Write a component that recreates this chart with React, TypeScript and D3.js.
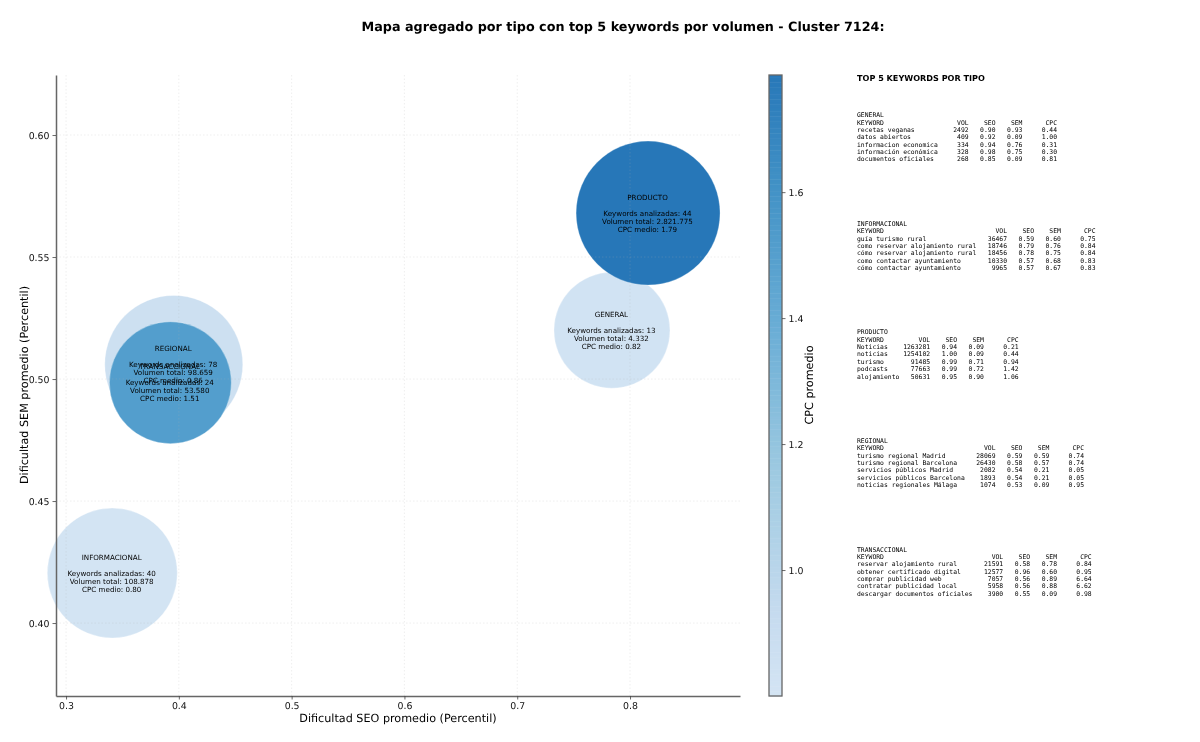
import { useEffect, useRef } from "react";
import * as d3 from "d3";

const types = ["GENERAL", "INFORMACIONAL", "PRODUCTO", "REGIONAL", "TRANSACCIONAL"];
const seoAvg = [0.784, 0.341, 0.816, 0.3955, 0.3925];
const semAvg = [0.52, 0.4205, 0.568, 0.506, 0.4985];
const cpcAvg = [0.82, 0.8, 1.79, 0.86, 1.51];
const keywordCount = [13, 40, 44, 78, 24];
const totalVolume = ["4.332", "108.878", "2.821.775", "98.659", "53.580"];
const bubbleSize = [3364, 4225, 5184, 4761, 3721];

const xTicks = [0.3, 0.4, 0.5, 0.6, 0.7, 0.8];
const yTicks = [0.4, 0.45, 0.5, 0.55, 0.6];
const cpcTicks = [1.0, 1.2, 1.4, 1.6];

// matplotlib Blues, only part of it is used
const blues = ["#f7fbff", "#deebf7", "#c6dbef", "#9ecae1", "#6baed6", "#4292c6", "#2171b5", "#08519c", "#08306b"];

// keyword, vol, seo, sem, cpc
const generalRows: [string, number, number, number, number][] = [
  ["recetas veganas", 2492, 0.9, 0.93, 0.44],
  ["datos abiertos", 409, 0.92, 0.09, 1.0],
  ["informacion economica", 334, 0.94, 0.76, 0.31],
  ["información económica", 328, 0.98, 0.75, 0.3],
  ["documentos oficiales", 268, 0.85, 0.09, 0.81],
];
const informacionalRows: [string, number, number, number, number][] = [
  ["guía turismo rural", 36467, 0.59, 0.6, 0.75],
  ["como reservar alojamiento rural", 18746, 0.79, 0.76, 0.84],
  ["cómo reservar alojamiento rural", 18456, 0.78, 0.75, 0.84],
  ["como contactar ayuntamiento", 10330, 0.57, 0.68, 0.83],
  ["cómo contactar ayuntamiento", 9965, 0.57, 0.67, 0.83],
];
const productoRows: [string, number, number, number, number][] = [
  ["Noticias", 1263281, 0.94, 0.09, 0.21],
  ["noticias", 1254102, 1.0, 0.09, 0.44],
  ["turismo", 91485, 0.99, 0.71, 0.94],
  ["podcasts", 77663, 0.99, 0.72, 1.42],
  ["alojamiento", 50631, 0.95, 0.9, 1.06],
];
const regionalRows: [string, number, number, number, number][] = [
  ["turismo regional Madrid", 28069, 0.59, 0.59, 0.74],
  ["turismo regional Barcelona", 26430, 0.58, 0.57, 0.74],
  ["servicios públicos Madrid", 2082, 0.54, 0.21, 0.05],
  ["servicios públicos Barcelona", 1893, 0.54, 0.21, 0.05],
  ["noticias regionales Málaga", 1074, 0.53, 0.09, 0.95],
];
const transaccionalRows: [string, number, number, number, number][] = [
  ["reservar alojamiento rural", 21591, 0.58, 0.78, 0.84],
  ["obtener certificado digital", 12577, 0.96, 0.6, 0.95],
  ["comprar publicidad web", 7057, 0.56, 0.89, 6.64],
  ["contratar publicidad local", 5958, 0.56, 0.88, 6.62],
  ["descargar documentos oficiales", 3900, 0.55, 0.09, 0.98],
];
const tableRows = [generalRows, informacionalRows, productoRows, regionalRows, transaccionalRows];

const sans = "'DejaVu Sans', sans-serif";
const mono = "'DejaVu Sans Mono', monospace";

const App = () => {
  const ref = useRef<SVGSVGElement>(null);

  useEffect(() => {
    const svg = d3.select(ref.current);
    svg.selectAll("*").remove();

    const plot = { left: 56, right: 740, top: 75, bottom: 696 };
    const bar = { left: 769, right: 782 };

    const x = d3.scaleLinear().domain([0.2911, 0.8975]).range([plot.left, plot.right]);
    const y = d3.scaleLinear().domain([0.3701, 0.6246]).range([plot.bottom, plot.top]);
    const r = d3.scaleSqrt().domain([0, 5184]).range([0, 72]);

    const blueScale = d3
      .scaleLinear<string>()
      .domain(blues.map((_, i) => i / 8))
      .range(blues);
    const cpcNorm = d3.scaleLinear().domain([0.8, 1.786]).range([0.18, 0.725]);
    const cpcColor = (v: number) => blueScale(cpcNorm(v));
    const cpcY = d3.scaleLinear().domain([0.8, 1.786]).range([plot.bottom, plot.top]);

    // title
    svg
      .append("text")
      .attr("x", 623)
      .attr("y", 31)
      .attr("text-anchor", "middle")
      .attr("font-family", sans)
      .attr("font-weight", "bold")
      .attr("font-size", 12.75)
      .text("Mapa agregado por tipo con top 5 keywords por volumen - Cluster 7124:");

    // bubbles, table order so TRANSACCIONAL sits on REGIONAL
    types.forEach((t, i) => {
      svg
        .append("circle")
        .attr("cx", x(seoAvg[i]))
        .attr("cy", y(semAvg[i]))
        .attr("r", r(bubbleSize[i]))
        .attr("fill", cpcColor(cpcAvg[i]))
        .attr("stroke", "white")
        .attr("stroke-opacity", 0.5)
        .attr("stroke-width", 0.6);
    });

    // grid goes over the bubbles
    const grid = svg.append("g").attr("stroke", "#b0b0b0").attr("stroke-opacity", 0.3).attr("stroke-width", 0.7).attr("stroke-dasharray", "1.5 2");
    xTicks.forEach((t) => {
      grid.append("line").attr("x1", x(t)).attr("x2", x(t)).attr("y1", plot.top).attr("y2", plot.bottom);
    });
    yTicks.forEach((t) => {
      grid.append("line").attr("x1", plot.left).attr("x2", plot.right).attr("y1", y(t)).attr("y2", y(t));
    });

    // bubble labels
    types.forEach((t, i) => {
      const lines = [t, "", `Keywords analizadas: ${keywordCount[i]}`, `Volumen total: ${totalVolume[i]}`, `CPC medio: ${cpcAvg[i].toFixed(2)}`];
      lines.forEach((line, j) => {
        svg
          .append("text")
          .attr("x", x(seoAvg[i]) - 0.6)
          .attr("y", y(semAvg[i]) + (j - 2) * 7.95 + 2.7)
          .attr("text-anchor", "middle")
          .attr("font-family", sans)
          .attr("font-size", 7.15)
          .attr("fill", "#000")
          .text(line);
      });
    });

    // axes
    const xAxis = svg
      .append("g")
      .attr("transform", `translate(0,${plot.bottom})`)
      .call(d3.axisBottom(x).tickValues(xTicks).tickFormat(d3.format(".1f")).tickSize(3.5).tickSizeOuter(0));
    const yAxis = svg
      .append("g")
      .attr("transform", `translate(${plot.left},0)`)
      .call(d3.axisLeft(y).tickValues(yTicks).tickFormat(d3.format(".2f")).tickSize(3.5).tickSizeOuter(0));
    [xAxis, yAxis].forEach((a) => {
      a.attr("font-family", sans).attr("font-size", 9.4);
      a.select(".domain").attr("stroke", "#666").attr("stroke-width", 1.5);
      a.selectAll("text").attr("fill", "#111");
      a.selectAll(".tick line").attr("stroke", "#444").attr("stroke-width", 0.8);
    });

    svg
      .append("text")
      .attr("x", 398)
      .attr("y", 722)
      .attr("text-anchor", "middle")
      .attr("font-family", sans)
      .attr("font-size", 11.2)
      .text("Dificultad SEO promedio (Percentil)");
    svg
      .append("text")
      .attr("transform", `translate(27.5,385) rotate(-90)`)
      .attr("text-anchor", "middle")
      .attr("font-family", sans)
      .attr("font-size", 11.2)
      .text("Dificultad SEM promedio (Percentil)");

    // colorbar
    const steps = d3.range(0, 256).map((i) => 0.8 + (i / 256) * 0.986);
    svg
      .append("g")
      .selectAll("rect")
      .data(steps)
      .join("rect")
      .attr("x", bar.left)
      .attr("width", bar.right - bar.left)
      .attr("y", (d) => cpcY(d + 0.986 / 256))
      .attr("height", (plot.bottom - plot.top) / 256 + 0.5)
      .attr("fill", (d) => cpcColor(d));
    svg
      .append("rect")
      .attr("x", bar.left)
      .attr("y", plot.top)
      .attr("width", bar.right - bar.left)
      .attr("height", plot.bottom - plot.top)
      .attr("fill", "none")
      .attr("stroke", "#666")
      .attr("stroke-width", 1.3);
    const barAxis = svg
      .append("g")
      .attr("transform", `translate(${bar.right},0)`)
      .call(d3.axisRight(cpcY).tickValues(cpcTicks).tickFormat(d3.format(".1f")).tickSize(3.5).tickSizeOuter(0));
    barAxis.attr("font-family", sans).attr("font-size", 9.4);
    barAxis.select(".domain").remove();
    barAxis.selectAll("text").attr("fill", "#111");
    barAxis.selectAll(".tick line").attr("stroke", "#444").attr("stroke-width", 0.8);
    svg
      .append("text")
      .attr("transform", `translate(813,385) rotate(-90)`)
      .attr("text-anchor", "middle")
      .attr("font-family", sans)
      .attr("font-size", 11.2)
      .text("CPC promedio");

    // right side tables
    svg
      .append("text")
      .attr("x", 857)
      .attr("y", 81)
      .attr("font-family", sans)
      .attr("font-weight", "bold")
      .attr("font-size", 8.1)
      .text("TOP 5 KEYWORDS POR TIPO");

    types.forEach((t, i) => {
      const rows = tableRows[i];
      const w = d3.max(rows, (d) => d[0].length) as number;
      const fmt = d3.format(".2f");
      const lines = [
        t,
        "KEYWORD".padEnd(w) + "VOL".padStart(8) + "SEO".padStart(7) + "SEM".padStart(7) + "CPC".padStart(9),
        ...rows.map(
          (d) =>
            d[0].padEnd(w) +
            String(d[1]).padStart(8) +
            fmt(d[2]).padStart(7) +
            fmt(d[3]).padStart(7) +
            fmt(d[4]).padStart(9)
        ),
      ];
      lines.forEach((line, j) => {
        svg
          .append("text")
          .attr("x", 857)
          .attr("y", 117.2 + i * 108.6 + j * 7.36)
          .attr("font-family", mono)
          .attr("font-size", 6.4)
          .attr("fill", "#000")
          .style("white-space", "pre")
          .text(line);
      });
    });
  }, []);

  return (
    <svg
      ref={ref}
      width={1200}
      height={742}
      textRendering="geometricPrecision"
      style={{ position: "absolute", left: 0, top: 0, background: "white", filter: "blur(0.3px)" }}
    />
  );
};

export default App;
